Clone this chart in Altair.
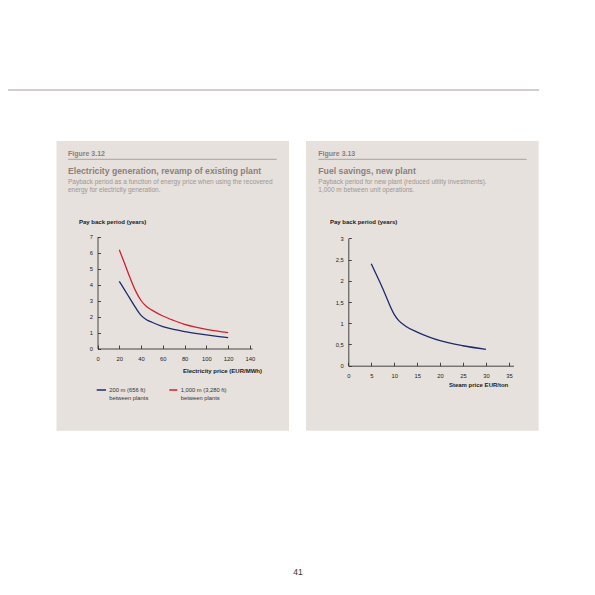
import altair as alt
import pandas as pd

FONT = 'Liberation Sans'
W, H = 575, 570

# Figure 3.12: payback period vs electricity price
elec_price = [20, 25, 30, 35, 40, 45, 50, 60, 70, 80, 90, 100, 110, 120]
payback_200m = [4.2, 3.65, 3.1, 2.55, 2.07, 1.8, 1.64, 1.37, 1.19, 1.06, 0.95, 0.85, 0.76, 0.68]
payback_1000m = [6.17, 5.3, 4.4, 3.6, 3.0, 2.62, 2.4, 2.03, 1.75, 1.51, 1.34, 1.2, 1.08, 0.99]
series_names = ['200 m (656 ft)', '1,000 m (3,280 ft)']
series_colors = ['#1c2b6e', '#d51f2f']
elec_x_ticks = [0, 20, 40, 60, 80, 100, 120, 140]
elec_y_ticks = [0, 1, 2, 3, 4, 5, 6, 7]

# Figure 3.13: payback period vs steam price
steam_price = [5, 7.5, 10, 11, 12.5, 15, 17.5, 20, 25, 30]
payback_steam = [2.40, 1.82, 1.21, 1.06, 0.93, 0.79, 0.68, 0.59, 0.47, 0.385]
steam_x_ticks = [0, 5, 10, 15, 20, 25, 30, 35]
steam_y_ticks = [0, 0.5, 1, 1.5, 2, 2.5, 3]

elec = pd.DataFrame({
    'price': elec_price * 2,
    'payback': payback_200m + payback_1000m,
    'series': [series_names[0]] * len(elec_price) + [series_names[1]] * len(elec_price),
})
steam = pd.DataFrame({'price': steam_price, 'payback': payback_steam})

DUMMY = alt.Data(values=[{}])
TITLE_GREY = '#8b807a'
SUB_GREY = '#a1958f'


def txt(s, x, y, size, color, weight='normal', align='left'):
    return alt.Chart(DUMMY).mark_text(
        text=s, font=FONT, fontSize=size, color=color, fontWeight=weight,
        align=align, baseline='alphabetic', lineHeight=7.5
    ).encode(x=alt.value(x), y=alt.value(y))


def rule(x1, x2, y, color, width=1.0):
    return alt.Chart(DUMMY).mark_rule(color=color, strokeWidth=width).encode(
        x=alt.value(x1), x2=alt.value(x2), y=alt.value(y))


def panel(x1, x2, y1, y2):
    return alt.Chart(DUMMY).mark_rect(color='#e6e1dd').encode(
        x=alt.value(x1), x2=alt.value(x2), y=alt.value(y1), y2=alt.value(y2))


def enc(x_dom, x_rng, y_dom, y_rng, x_ticks, y_ticks, comma=False):
    common = dict(title=None, grid=False, domainColor='#333', tickColor='#333',
                  domainWidth=0.9, tickWidth=0.9, labelFont=FONT, labelFontSize=5.8,
                  labelColor='#222', labelFlush=False, labelOverlap=False, zindex=1)
    if comma:
        # decimal comma, as in the printed figure
        common['labelExpr'] = "replace(format(datum.value, '~r'), '.', ',')"
    x = alt.X('price:Q',
              scale=alt.Scale(domain=x_dom, range=x_rng, nice=False, zero=False),
              axis=alt.Axis(orient='top', offset=-y_rng[0], values=x_ticks, tickSize=3.5,
                            labelPadding=-10.5, labelBaseline='top', labelAlign='center',
                            **common))
    y = alt.Y('payback:Q',
              scale=alt.Scale(domain=y_dom, range=y_rng, nice=False),
              axis=alt.Axis(orient='right', offset=x_rng[0] - W, values=y_ticks, tickSize=3,
                            labelPadding=-8, labelAlign='right', labelBaseline='middle',
                            **common))
    return x, y


ex, ey = enc([0, 142], [89.5, 244.1], [0, 7], [340.5, 228.5], elec_x_ticks, elec_y_ticks)
elec_lines = alt.Chart(elec).mark_line(strokeWidth=1.3, interpolate='monotone').encode(
    x=ex, y=ey,
    color=alt.Color('series:N', scale=alt.Scale(domain=series_names, range=series_colors),
                    legend=None),
)

sx, sy = enc([0, 36], [340.3, 505.5], [0, 3], [357.7, 230.3], steam_x_ticks, steam_y_ticks,
             comma=True)
steam_line = alt.Chart(steam).mark_line(
    strokeWidth=1.3, interpolate='monotone', color=series_colors[0]
).encode(x=sx, y=sy)

decor = [
    rule(0, 531, 82, '#a69c95'),
    panel(48.5, 281, 133, 422.7),
    panel(298, 530.7, 133, 422.7),
    # left panel
    txt('Figure 3.12', 60, 148, 7.0, TITLE_GREY, 'bold'),
    rule(60, 268.7, 151.3, '#9d918a', 0.8),
    txt('Electricity generation, revamp of existing plant', 60, 166.3, 8.7, TITLE_GREY, 'bold'),
    txt('Payback period as a function of energy price when using the recovered',
        60, 176.3, 6.5, SUB_GREY),
    txt('energy for electricity generation.', 60, 183.7, 6.5, SUB_GREY),
    txt('Pay back period (years)', 71, 215.7, 6.0, '#1a1a1a', 600),
    txt('Electricity price (EUR/MWh)', 254, 365.3, 6.0, '#1a1a1a', 600, 'right'),
    rule(88.7, 98, 382, series_colors[0], 1.5),
    txt([series_names[0], 'between plants'], 101.3, 384, 5.8, '#333'),
    rule(161.3, 169.3, 382, series_colors[1], 1.5),
    txt([series_names[1], 'between plants'], 172.7, 384, 5.8, '#333'),
    # right panel
    txt('Figure 3.13', 310.3, 148, 7.0, TITLE_GREY, 'bold'),
    rule(310.3, 518.7, 151.3, '#9d918a', 0.8),
    txt('Fuel savings, new plant', 310.3, 166.3, 8.7, TITLE_GREY, 'bold'),
    txt('Payback period for new plant (reduced utility investments).',
        310.3, 176.3, 6.5, SUB_GREY),
    txt('1,000 m between unit operations.', 310.3, 183.7, 6.5, SUB_GREY),
    txt('Pay back period (years)', 322, 215.7, 6.0, '#1a1a1a', 600),
    txt('Steam price EUR/ton', 500.3, 379, 6.0, '#1a1a1a', 600, 'right'),
    # page number
    txt('41', 285.3, 567, 8.5, '#333'),
]

chart = alt.layer(*decor, elec_lines, steam_line).resolve_scale(
    x='independent', y='independent', color='independent'
).resolve_axis(
    x='independent', y='independent'
).properties(
    width=W, height=H, padding=0,
    autosize=alt.AutoSizeParams(type='none'),
    background='white',
).configure_view(stroke=None)

chart.save("out.html", embed_options={"renderer": "svg", "actions": False})
